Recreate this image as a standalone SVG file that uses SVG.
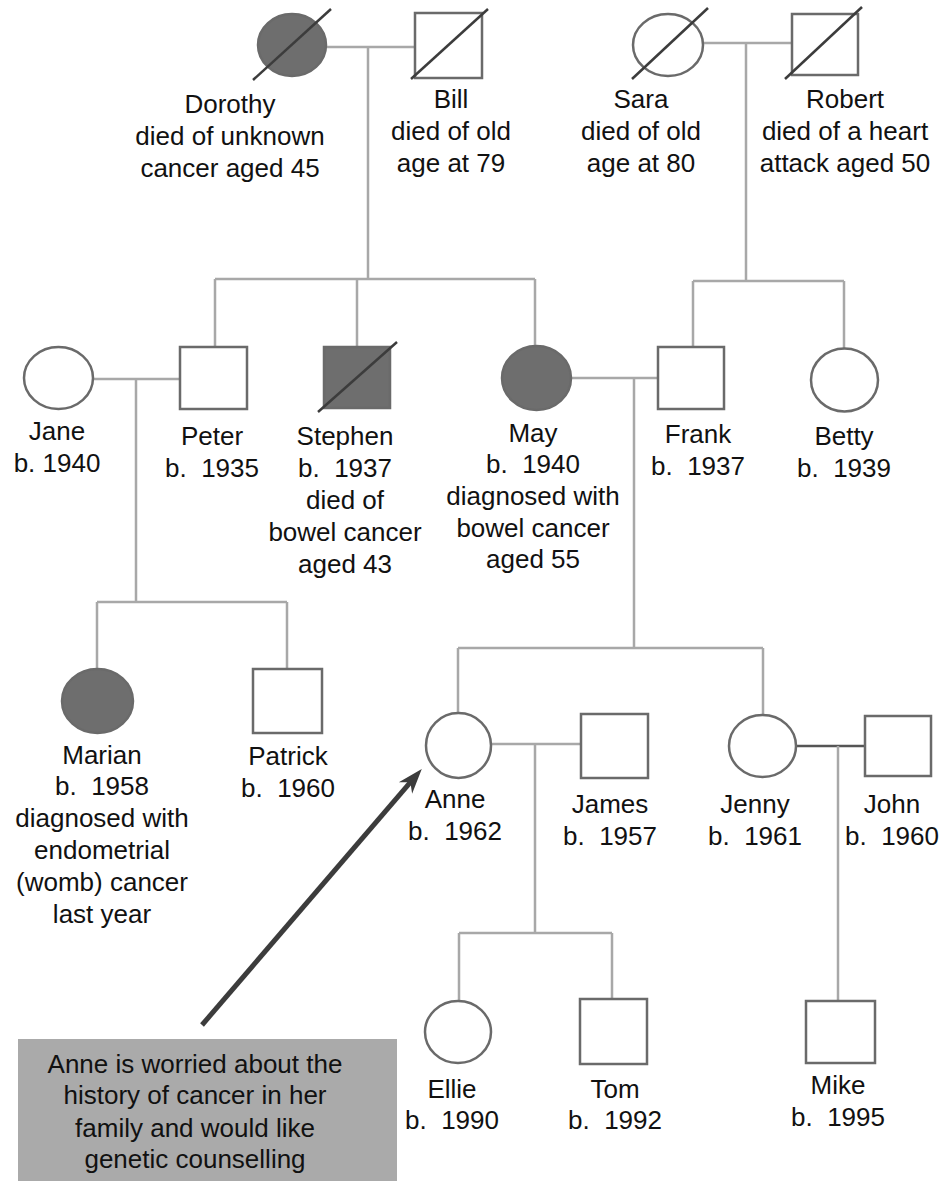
<svg xmlns="http://www.w3.org/2000/svg" width="945" height="1181" viewBox="0 0 945 1181">
<style>
.ln{stroke:#a8a8a8;stroke-width:2.5;fill:none}
.ml{stroke:#555;stroke-width:2.5;fill:none}
.sh{fill:#fff;stroke:#6a6a6a;stroke-width:2.5}
.af{fill:#6e6e6e;stroke:#6a6a6a;stroke-width:2.5}
.dx{stroke:#3c3c3c;stroke-width:2.5}
text{font-family:"Liberation Sans",Arial,sans-serif;font-size:26px;fill:#111;text-anchor:middle;white-space:pre}
</style>
<defs>
<marker id="ah" viewBox="0 0 10 10" refX="4" refY="5" markerWidth="5" markerHeight="5" orient="auto">
<path d="M0,1.5 L10,5 L0,8.5 L3,5 z" fill="#3c3c3c"/>
</marker>
</defs>
<rect width="945" height="1181" fill="#fff"/>
<g id="connectors">
<path class="ln" d="M327,47 H415 M368,47 V279 M215,279 H535 M215,279 V347 M357,279 V347 M535,279 V346"/>
<path class="ln" d="M703,43 H792 M746,43 V281 M693,281 H844 M693,281 V347 M844,281 V349"/>
<path class="ln" d="M93,379 H180 M136,379 V602 M97,602 H287 M97,602 V669 M287,602 V669"/>
<path class="ln" d="M571,378 H658 M634,378 V648 M458,648 H763 M458,648 V713 M763,648 V715"/>
<path class="ln" d="M491,744 H581 M535,744 V933 M459,933 H612 M459,933 V1001 M612,933 V999"/>
<path class="ml" d="M796,746 H865"/>
<path class="ln" d="M838,746 V1001"/>
<line x1="202" y1="1025" x2="412" y2="780.4" stroke="#3c3c3c" stroke-width="5" marker-end="url(#ah)"/>
</g>
<g id="dorothy">
<ellipse class="af" cx="292" cy="45" rx="34" ry="31"/>
<line class="dx" x1="253" y1="80" x2="331" y2="9"/>
<text><tspan x="230" y="113">Dorothy</tspan><tspan x="230" y="145">died of unknown</tspan><tspan x="230" y="177">cancer aged 45</tspan></text>
</g>
<g id="bill">
<rect class="sh" x="415" y="13" width="67" height="65"/>
<line class="dx" x1="411" y1="79" x2="488" y2="9"/>
<text><tspan x="451" y="108">Bill</tspan><tspan x="451" y="140">died of old</tspan><tspan x="451" y="172">age at 79</tspan></text>
</g>
<g id="sara">
<ellipse class="sh" cx="668" cy="45" rx="35" ry="31"/>
<line class="dx" x1="632" y1="79" x2="708" y2="8"/>
<text><tspan x="641" y="108">Sara</tspan><tspan x="641" y="140">died of old</tspan><tspan x="641" y="172">age at 80</tspan></text>
</g>
<g id="robert">
<rect class="sh" x="792" y="14" width="66" height="61"/>
<line class="dx" x1="785" y1="79" x2="862" y2="7"/>
<text><tspan x="845" y="108">Robert</tspan><tspan x="845" y="140">died of a heart</tspan><tspan x="845" y="172">attack aged 50</tspan></text>
</g>
<g id="jane">
<ellipse class="sh" cx="58.5" cy="378" rx="34.5" ry="31"/>
<text><tspan x="57" y="440">Jane</tspan><tspan x="57" y="472">b. 1940</tspan></text>
</g>
<g id="peter">
<rect class="sh" x="180" y="347" width="67" height="62"/>
<text><tspan x="212" y="445">Peter</tspan><tspan x="212" y="477">b.  1935</tspan></text>
</g>
<g id="stephen">
<rect class="af" x="324" y="347" width="66" height="61"/>
<line class="dx" x1="318" y1="412" x2="397" y2="342"/>
<text><tspan x="345" y="445">Stephen</tspan><tspan x="345" y="477">b.  1937</tspan><tspan x="345" y="509">died of</tspan><tspan x="345" y="541">bowel cancer</tspan><tspan x="345" y="573">aged 43</tspan></text>
</g>
<g id="may">
<ellipse class="af" cx="536.5" cy="378" rx="34.5" ry="32"/>
<text><tspan x="533" y="442">May</tspan><tspan x="533" y="473">b.  1940</tspan><tspan x="533" y="505">diagnosed with</tspan><tspan x="533" y="537">bowel cancer</tspan><tspan x="533" y="568">aged 55</tspan></text>
</g>
<g id="frank">
<rect class="sh" x="658" y="347" width="66" height="62"/>
<text><tspan x="698" y="443">Frank</tspan><tspan x="698" y="475">b.  1937</tspan></text>
</g>
<g id="betty">
<ellipse class="sh" cx="844.5" cy="380" rx="33.5" ry="31.5"/>
<text><tspan x="844" y="445">Betty</tspan><tspan x="844" y="477">b.  1939</tspan></text>
</g>
<g id="marian">
<ellipse class="af" cx="97.5" cy="701" rx="35.5" ry="32"/>
<text><tspan x="102" y="764">Marian</tspan><tspan x="102" y="795">b.  1958</tspan><tspan x="102" y="827">diagnosed with</tspan><tspan x="102" y="859">endometrial</tspan><tspan x="102" y="891">(womb) cancer</tspan><tspan x="102" y="923">last year</tspan></text>
</g>
<g id="patrick">
<rect class="sh" x="253" y="669" width="69" height="64"/>
<text><tspan x="288" y="765">Patrick</tspan><tspan x="288" y="797">b.  1960</tspan></text>
</g>
<g id="anne">
<ellipse class="sh" cx="458.5" cy="745.5" rx="32.5" ry="32.5"/>
<text><tspan x="455" y="808">Anne</tspan><tspan x="455" y="840">b.  1962</tspan></text>
</g>
<g id="james">
<rect class="sh" x="581" y="714" width="67" height="64"/>
<text><tspan x="610" y="813">James</tspan><tspan x="610" y="845">b.  1957</tspan></text>
</g>
<g id="jenny">
<ellipse class="sh" cx="762.5" cy="746" rx="33.5" ry="31"/>
<text><tspan x="755" y="813">Jenny</tspan><tspan x="755" y="845">b.  1961</tspan></text>
</g>
<g id="john">
<rect class="sh" x="865" y="716" width="66" height="60"/>
<text><tspan x="892" y="813">John</tspan><tspan x="892" y="845">b.  1960</tspan></text>
</g>
<g id="ellie">
<ellipse class="sh" cx="458" cy="1032" rx="33" ry="31"/>
<text><tspan x="452" y="1098">Ellie</tspan><tspan x="452" y="1129">b.  1990</tspan></text>
</g>
<g id="tom">
<rect class="sh" x="580" y="999" width="67" height="65"/>
<text><tspan x="615" y="1098">Tom</tspan><tspan x="615" y="1129">b.  1992</tspan></text>
</g>
<g id="mike">
<rect class="sh" x="806" y="1001" width="69" height="62"/>
<text><tspan x="838" y="1094">Mike</tspan><tspan x="838" y="1126">b.  1995</tspan></text>
</g>
<g id="note">
<rect x="18" y="1039" width="379" height="142" fill="#aaaaaa"/>
<text><tspan x="195" y="1073">Anne is worried about the</tspan><tspan x="195" y="1104">history of cancer in her</tspan><tspan x="195" y="1137">family and would like</tspan><tspan x="195" y="1168">genetic counselling</tspan></text>
</g>
</svg>
